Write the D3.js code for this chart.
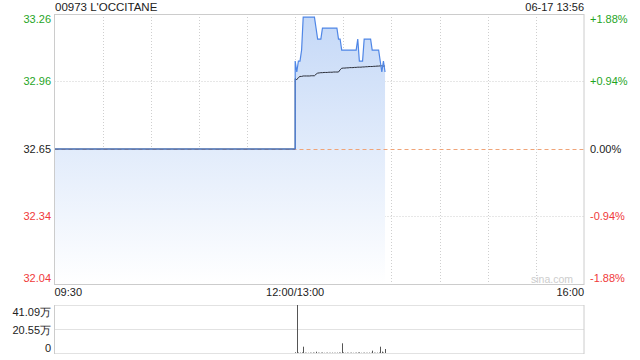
<!DOCTYPE html>
<html>
<head>
<meta charset="utf-8">
<script src="https://cdn.jsdelivr.net/npm/d3@7"></script>
<style>
  html, body { margin: 0; padding: 0; background: #fff; }
  svg { display: block; font-family: "Liberation Sans", Arial, sans-serif; }
</style>
</head>
<body>
<svg id="chart" width="640" height="360"></svg>
<script>
// ---------- DATA ----------
const title = "00973 L'OCCITANE";
const stamp = "06-17 13:56";
const prevClose = 32.65;
const pctTicks = [1.88, 0.94, 0, -0.94, -1.88];
const priceTickLabels = ["33.26", "32.96", "32.65", "32.34", "32.04"];
const pctTickLabels = ["+1.88%", "+0.94%", "0.00%", "-0.94%", "-1.88%"];
const timeTickLabels = ["09:30", "12:00/13:00", "16:00"];
const volTickLabels = ["41.09万", "20.55万", "0"];
const volMax = 410900;

const amTimes = ["09:30", "12:00"];
const amPrices = [32.65, 32.65];
const amAvg = [32.65, 32.65];

const pmTimes = [
  "13:00","13:01","13:02","13:03","13:04","13:05","13:06","13:07","13:08","13:09",
  "13:10","13:11","13:12","13:13","13:14","13:15","13:16","13:17","13:18","13:19",
  "13:20","13:21","13:22","13:23","13:24","13:25","13:26","13:27","13:28","13:29",
  "13:30","13:31","13:32","13:33","13:34","13:35","13:36","13:37","13:38","13:39",
  "13:40","13:41","13:42","13:43","13:44","13:45","13:46","13:47","13:48","13:49",
  "13:50","13:51","13:52","13:53","13:54","13:55","13:56"];
const pmPrices = [
  33.05, 33.00, 33.05, 33.05, 33.10, 33.25, 33.25, 33.25, 33.25, 33.25,
  33.25, 33.25, 33.25, 33.20, 33.15, 33.15, 33.15, 33.20, 33.20, 33.20,
  33.20, 33.20, 33.20, 33.20, 33.20, 33.20, 33.20, 33.15, 33.15, 33.10,
  33.10, 33.10, 33.10, 33.10, 33.10, 33.10, 33.10, 33.10, 33.10, 33.15,
  33.05, 33.05, 33.05, 33.15, 33.15, 33.15, 33.15, 33.15, 33.10, 33.10,
  33.10, 33.10, 33.10, 33.05, 33.00, 33.05, 33.00];
const pmAvg = [
  32.970, 32.965, 32.975, 32.980, 32.980, 32.982, 32.982, 32.982, 32.982, 32.982,
  32.983, 32.983, 32.983, 32.990, 32.995, 32.996, 32.997, 32.997, 32.998, 32.998,
  32.998, 32.999, 32.999, 32.999, 33.000, 33.000, 33.000, 33.000, 33.010, 33.017,
  33.018, 33.018, 33.019, 33.019, 33.020, 33.020, 33.020, 33.021, 33.021, 33.022,
  33.022, 33.022, 33.023, 33.023, 33.024, 33.024, 33.025, 33.025, 33.025, 33.026,
  33.026, 33.027, 33.027, 33.028, 33.028, 33.027, 33.027];
const pmVolume = [
  6000, 410900, 4000, 3000, 5000, 54000, 3000, 2000, 2000, 3000,
  2000, 4000, 2000, 11000, 3000, 2000, 3000, 4000, 2000, 2000,
  3000, 2000, 2000, 3000, 2000, 2000, 3000, 4000, 3000, 83000,
  5000, 2000, 3000, 2000, 2000, 3000, 2000, 2000, 3000, 4000,
  5000, 2000, 2000, 3000, 2000, 2000, 3000, 2000, 20000, 3000,
  2000, 3000, 4000, 54000, 12000, 4000, 34000];

// ---------- HELPERS ----------
function timeIndex(t) {
  const [h, m] = t.split(":").map(Number);
  const mins = h * 60 + m;
  return mins <= 12 * 60 ? mins - (9 * 60 + 30) : 150 + mins - 13 * 60;
}

const L = 54.5, R = 584, T = 14, B = 284;
const VT = 305, VB = 353;
const green = "#1fa51f", red = "#f03a3a", black = "#222";

const svg = d3.select("#chart");

const x = d3.scaleLinear().domain([0, 330]).range([L, R]);
const y = d3.scaleLinear()
  .domain([prevClose * (1 - 0.0188), prevClose * (1 + 0.0188)])
  .range([B, T]);
const yv = d3.scaleLinear().domain([0, volMax]).range([VB, VT]);

const series = amTimes.map((t, i) => ({ i: timeIndex(t), p: amPrices[i], a: amAvg[i] }))
  .concat(pmTimes.map((t, i) => ({ i: timeIndex(t), p: pmPrices[i], a: pmAvg[i], v: pmVolume[i] })));

// gradient
const defs = svg.append("defs");
const grad = defs.append("linearGradient").attr("id", "fillGrad")
  .attr("gradientUnits", "userSpaceOnUse")
  .attr("x1", 0).attr("y1", T).attr("x2", 0).attr("y2", B);
grad.append("stop").attr("offset", "0%").attr("stop-color", "#c4d8f7");
grad.append("stop").attr("offset", "100%").attr("stop-color", "#ffffff");

// ---------- MAIN PANEL GRID ----------
const tickVals = pctTicks.map(p => prevClose * (1 + p / 100));
const xGrid = d3.range(0, 331, 30);

svg.append("g").selectAll("line").data(xGrid.slice(1, -1)).join("line")
  .attr("x1", d => Math.round(x(d)) + 0.5).attr("x2", d => Math.round(x(d)) + 0.5)
  .attr("y1", T).attr("y2", B)
  .attr("stroke", "#cfcfcf").attr("stroke-dasharray", "1,2");

svg.append("g").selectAll("line").data([tickVals[1], tickVals[3]]).join("line")
  .attr("x1", L).attr("x2", R)
  .attr("y1", d => Math.round(y(d)) + 0.5).attr("y2", d => Math.round(y(d)) + 0.5)
  .attr("stroke", "#cfcfcf").attr("stroke-dasharray", "1,2");

// area
const area = d3.area().x(d => x(d.i)).y0(B).y1(d => y(d.p));
svg.append("path").datum(series).attr("d", area).attr("fill", "url(#fillGrad)");

// prev close dashed
svg.append("line")
  .attr("x1", L).attr("x2", R)
  .attr("y1", Math.round(y(prevClose)) + 0.5).attr("y2", Math.round(y(prevClose)) + 0.5)
  .attr("stroke", "#f0a478").attr("stroke-dasharray", "4,3");

// avg line
svg.append("path").datum(series)
  .attr("d", d3.line().x(d => x(d.i)).y(d => y(d.a)))
  .attr("fill", "none").attr("stroke", "#2b2f3a").attr("stroke-width", 1);

// price line
svg.append("path").datum(series)
  .attr("d", d3.line().x(d => x(d.i)).y(d => y(d.p)))
  .attr("fill", "none").attr("stroke", "#4f86e6").attr("stroke-width", 1.2);

// border
svg.append("rect").attr("x", L).attr("y", T + 0.5).attr("width", R - L).attr("height", B - T)
  .attr("fill", "none").attr("stroke", "#cccccc");

// watermark
svg.append("text").attr("x", 573).attr("y", 283).attr("text-anchor", "end")
  .attr("font-size", 10.5).attr("fill", "#cdcdcd").text("sina.com");

// labels
const lblColor = i => (pctTicks[i] > 0 ? green : pctTicks[i] < 0 ? red : black);
const lblDy = i => (i === 0 ? 5.5 : i === pctTicks.length - 1 ? -6 : 0);

svg.append("g").selectAll("text").data(priceTickLabels).join("text")
  .attr("x", 51).attr("y", (d, i) => y(tickVals[i]) + lblDy(i))
  .attr("dy", "0.35em").attr("text-anchor", "end").attr("font-size", 11)
  .attr("fill", (d, i) => lblColor(i)).text(d => d);

svg.append("g").selectAll("text").data(pctTickLabels).join("text")
  .attr("x", 590).attr("y", (d, i) => y(tickVals[i]) + lblDy(i))
  .attr("dy", "0.35em").attr("text-anchor", "start").attr("font-size", 11)
  .attr("fill", (d, i) => lblColor(i)).text(d => d);

// time labels
const timePos = [0, 150, 330];
const timeAnchor = ["start", "middle", "end"];
svg.append("g").selectAll("text").data(timeTickLabels).join("text")
  .attr("x", (d, i) => x(timePos[i])).attr("y", 296)
  .attr("text-anchor", (d, i) => timeAnchor[i]).attr("font-size", 11)
  .attr("fill", black).text(d => d);

// title & stamp
svg.append("text").attr("x", 55).attr("y", 11).attr("font-size", 11.5)
  .attr("fill", black).text(title);
svg.append("text").attr("x", 584).attr("y", 11).attr("font-size", 11)
  .attr("text-anchor", "end").attr("fill", black).text(stamp);

// ---------- VOLUME PANEL ----------
const volTickVals = [volMax, volMax / 2, 0];
svg.append("g").selectAll("line").data(volTickVals).join("line")
  .attr("x1", L).attr("x2", R)
  .attr("y1", d => Math.round(yv(d)) + 0.5).attr("y2", d => Math.round(yv(d)) + 0.5)
  .attr("stroke", "#c4c4c4").attr("stroke-dasharray", "1,1");
svg.append("g").selectAll("line").data([L, R]).join("line")
  .attr("x1", d => d).attr("x2", d => d).attr("y1", VT).attr("y2", VB + 1)
  .attr("stroke", "#cccccc");

svg.append("g").selectAll("line").data(series.filter(d => d.v)).join("line")
  .attr("x1", d => Math.round(x(d.i)) + 0.5).attr("x2", d => Math.round(x(d.i)) + 0.5)
  .attr("y1", yv(0)).attr("y2", d => yv(d.v))
  .attr("stroke", "#555");

const vDy = [7, 1, -4.5];
svg.append("g").selectAll("text").data(volTickLabels).join("text")
  .attr("x", 51).attr("y", (d, i) => yv(volTickVals[i]) + vDy[i])
  .attr("dy", "0.35em").attr("text-anchor", "end").attr("font-size", 11)
  .attr("fill", black).text(d => d);
</script>
</body>
</html>
